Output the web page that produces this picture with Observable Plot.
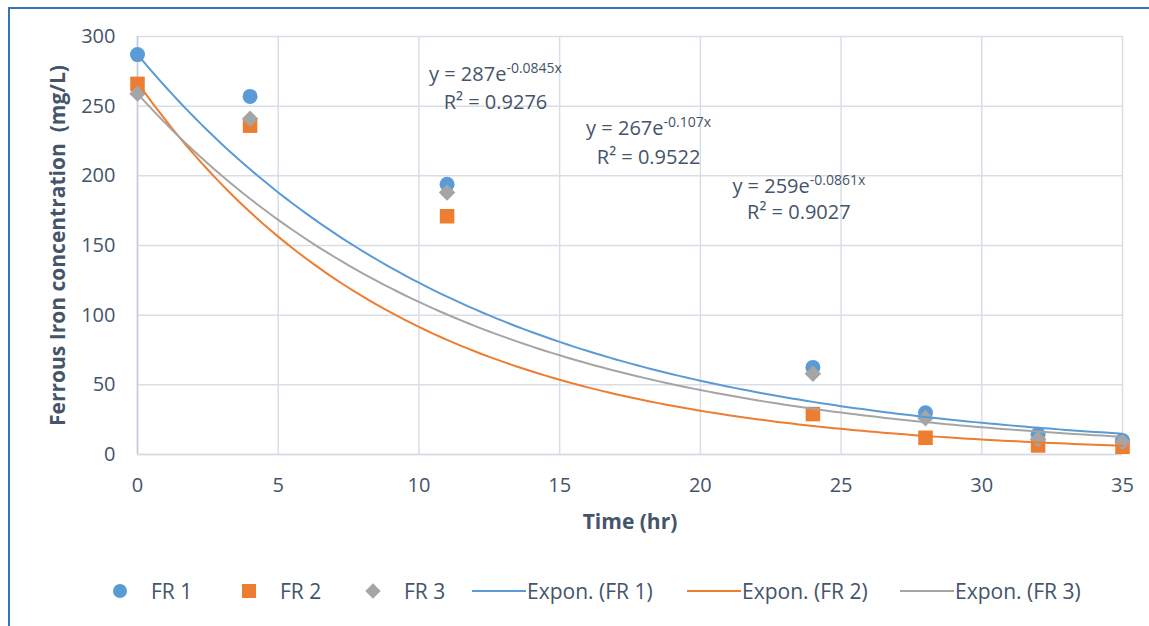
<!DOCTYPE html>
<html>
<head>
<meta charset="utf-8">
<script src="https://cdn.jsdelivr.net/npm/d3@7"></script>
<script src="https://cdn.jsdelivr.net/npm/@observablehq/plot@0.6"></script>
<style>
  html, body { margin: 0; padding: 0; background: #fff; }
  body { width: 1149px; height: 626px; position: relative; overflow: hidden; font-family: "Open Sans", sans-serif; }
  #frameTop { position: absolute; left: 8px; top: 7px; width: 1141px; height: 2px; background: #3a72b8; }
  #frameLeft { position: absolute; left: 8px; top: 7px; width: 2px; height: 619px; background: #3a72b8; }
  #chart { position: absolute; left: 0; top: 0; }
  #legend { position: absolute; left: 0; top: 577px; width: 1149px; height: 28px; font-size: 21px; color: #44546a; }
  .item { position: absolute; top: 0; height: 28px; display: flex; align-items: center; white-space: nowrap; }
  .item svg { display: block; }
</style>
</head>
<body>
<div id="chart"></div>
<div id="frameTop"></div>
<div id="frameLeft"></div>
<div id="legend"></div>
<script>
// ---- data ----
const times = [0, 4, 11, 24, 28, 32, 35];
const fr1 = [287, 257, 194, 62.5, 30, 14.5, 10];
const fr2 = [266, 236, 171, 29, 12, 6.5, 5.5];
const fr3 = [259, 241, 188, 58, 26, 11, 9];
const seriesNames = ["FR 1", "FR 2", "FR 3"];
const trendNames = ["Expon. (FR 1)", "Expon. (FR 2)", "Expon. (FR 3)"];
const trendA = [287, 267, 259];
const trendB = [-0.0845, -0.107, -0.0861];
const eqText = ["y = 287e^-0.0845x", "y = 267e^-0.107x", "y = 259e^-0.0861x"];
const r2Text = ["R² = 0.9276", "R² = 0.9522", "R² = 0.9027"];
const eqX = [12.72, 18.16, 23.5];
const eqY = [273, 234, 192];
const r2Y = [252.5, 213, 173.5];
const xTicks = [0, 5, 10, 15, 20, 25, 30, 35];
const yTicks = [0, 50, 100, 150, 200, 250, 300];
const xTitle = "Time (hr)";
const yTitle = "Ferrous Iron concentration  (mg/L)";

const colors = ["#5b9bd5", "#ed7d31", "#a5a5a5"];
const symbols = ["circle", "square", "diamond2"];
const radii = [7.5, 8.2, 7.4];
const seriesValues = [fr1, fr2, fr3];

const points = [];
seriesValues.forEach((vals, s) => times.forEach((t, i) => points.push({series: seriesNames[s], t, v: vals[i]})));

// trendline curves from the chart's fitted equations
const curve = [];
const samples = d3.range(0, 35.001, 0.25);
trendA.forEach((a, s) => samples.forEach(x => curve.push({series: trendNames[s], x, y: a * Math.exp(trendB[s] * x)})));

const labels = eqText.map((t, i) => ({eq: t, r2: r2Text[i], x: eqX[i], ye: eqY[i], yr: r2Y[i]}));

const textColor = "#44546a";

const marks = [
  Plot.gridX(xTicks, {stroke: "#d9dee6", strokeOpacity: 1, strokeWidth: 1.5}),
  Plot.gridY(yTicks, {stroke: "#d9dee6", strokeOpacity: 1, strokeWidth: 1.5}),
  Plot.ruleX([0], {stroke: "#c3ccda", strokeWidth: 1.5}),
  Plot.ruleY([0], {stroke: "#d5dbe5", strokeWidth: 1.5}),
  Plot.axisX(xTicks, {tickSize: 0, tickPadding: 23, label: null, fontSize: 20, fill: textColor}),
  Plot.axisY(yTicks, {tickSize: 0, tickPadding: 22, label: null, fontSize: 20, fill: textColor}),
  Plot.text([xTitle], {frameAnchor: "bottom", lineAnchor: "middle", dy: 68, fontWeight: "bold", fontSize: 21, fill: textColor}),
  Plot.text([yTitle], {frameAnchor: "left", textAnchor: "middle", lineAnchor: "middle", dx: -79, rotate: -90, fontWeight: "bold", fontSize: 21, fill: textColor})
];
seriesNames.forEach((name, s) => {
  marks.push(Plot.dot(points.filter(d => d.series === name), {
    x: "t", y: "v", symbol: () => symbols[s], fill: colors[s], r: radii[s], stroke: "none"
  }));
});
trendNames.forEach((name, s) => {
  marks.push(Plot.line(curve.filter(d => d.series === name), {x: "x", y: "y", stroke: colors[s], strokeWidth: 2}));
});
marks.push(Plot.text(labels, {x: "x", y: "ye", text: "eq", fontSize: 20, fill: textColor}));
marks.push(Plot.text(labels, {x: "x", y: "yr", text: "r2", fontSize: 20, fill: textColor}));

const chart = Plot.plot({
  width: 1149,
  height: 560,
  marginLeft: 137,
  marginRight: 27,
  marginTop: 36,
  marginBottom: 106,
  style: {fontFamily: "'Open Sans', sans-serif", background: "transparent", color: textColor, overflow: "visible"},
  x: {domain: [0, 35]},
  y: {domain: [0, 300]},
  symbol: {type: "identity"},
  marks
});
document.getElementById("chart").append(chart);

// superscripts for the exponent, white label boxes behind the equations
const allTexts = Array.from(chart.querySelectorAll("text"));
const eqs = allTexts.filter(el => el.textContent.includes("^"));
const r2s = allTexts.filter(el => el.textContent.startsWith("R²"));
eqs.forEach(el => {
  const [base, exp] = el.textContent.split("^");
  el.textContent = base;
  const ts = document.createElementNS("http://www.w3.org/2000/svg", "tspan");
  ts.setAttribute("dy", "-8");
  ts.setAttribute("font-size", "14");
  ts.textContent = exp;
  el.appendChild(ts);
});
if (eqs.length) {
  const boxG = document.createElementNS("http://www.w3.org/2000/svg", "g");
  eqs.forEach((el, i) => {
    const b1 = el.getBBox(), b2 = r2s[i].getBBox();
    const x0 = Math.min(b1.x, b2.x) - 9, x1 = Math.max(b1.x + b1.width, b2.x + b2.width) + 6;
    const y0 = Math.min(b1.y, b2.y) - 2, y1 = Math.max(b1.y + b1.height, b2.y + b2.height) + 2;
    const r = document.createElementNS("http://www.w3.org/2000/svg", "rect");
    r.setAttribute("x", x0); r.setAttribute("y", y0);
    r.setAttribute("width", x1 - x0); r.setAttribute("height", y1 - y0);
    r.setAttribute("fill", "white");
    boxG.appendChild(r);
  });
  const firstG = eqs[0].parentNode;
  firstG.parentNode.insertBefore(boxG, firstG);
}

// legend
const legend = d3.select("#legend");
const itemLeft = [112, 241, 365, 472, 687, 900];
const entries = [
  ...seriesNames.map((n, s) => ({name: n, kind: "symbol", s})),
  ...trendNames.map((n, s) => ({name: n, kind: "line", s}))
];
entries.forEach((e, i) => {
  const it = legend.append("div").attr("class", "item").style("left", itemLeft[i] + "px");
  if (e.kind === "symbol") {
    const sv = it.append("svg").attr("width", 16).attr("height", 16);
    const sym = [d3.symbolCircle, d3.symbolSquare, d3.symbolDiamond2][e.s];
    const size = [Math.PI * 7 * 7, 14 * 14, 150][e.s];
    sv.append("path").attr("transform", "translate(8,8)").attr("d", d3.symbol(sym, size)()).attr("fill", colors[e.s]);
    it.append("span").style("margin-left", "23px").text(e.name);
  } else {
    const sv = it.append("svg").attr("width", 54).attr("height", 4);
    sv.append("line").attr("x1", 0).attr("x2", 54).attr("y1", 2).attr("y2", 2).attr("stroke", colors[e.s]).attr("stroke-width", 2);
    it.append("span").style("margin-left", "1px").text(e.name);
  }
});
</script>
</body>
</html>
